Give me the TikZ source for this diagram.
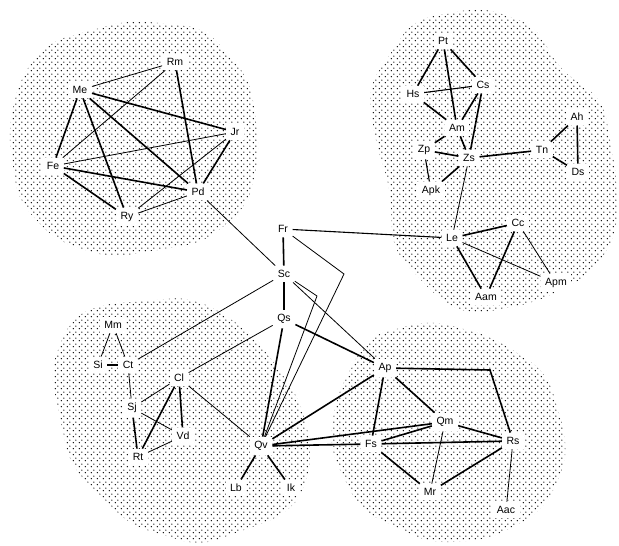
\documentclass[tikz,border=0pt]{standalone}
\usepackage{fontspec}
\setmainfont{Liberation Sans}
\usetikzlibrary{patterns}
\pgfdeclarepatternformonly{stipple}{\pgfpointorigin}{\pgfqpoint{6pt}{6pt}}{\pgfqpoint{6pt}{6pt}}{%
  \pgfpathcircle{\pgfqpoint{1.5pt}{1.5pt}}{0.85pt}%
  \pgfpathcircle{\pgfqpoint{4.5pt}{4.5pt}}{0.85pt}%
  \pgfusepath{fill}}
\tikzset{
  lbl/.style={fill=white, inner sep=4.5pt, font=\fontsize{10.5}{11}\selectfont},
  tk/.style={line width=1.6pt},
  tn/.style={line width=0.8pt},
  md/.style={line width=1.1pt},
  blob/.style={pattern=stipple, pattern color=black, rounded corners=18pt}
}
\begin{document}
\begin{tikzpicture}[x=1pt,y=-1pt]
\useasboundingbox (0,0) rectangle (619,546);
% stippled regions
\path[blob] (48,42) -- (130,20) -- (205,28) -- (250,80) -- (260,150) -- (248,205) -- (205,242) -- (110,258) -- (55,240) -- (18,200) -- (8,130) -- (20,78) -- cycle;
\path[blob] (413,20) -- (483,7) -- (537,27) -- (557,67) -- (603,100) -- (617,180) -- (617,233) -- (593,273) -- (537,302) -- (470,315) -- (440,300) -- (393,250) -- (390,187) -- (375,140) -- (368,87) -- cycle;
\path[blob] (97,305) -- (190,297) -- (232,318) -- (265,350) -- (300,400) -- (312,450) -- (305,490) -- (285,515) -- (200,546) -- (130,525) -- (70,465) -- (50,370) -- (70,320) -- cycle;
\path[blob] (367,337) -- (430,320) -- (493,337) -- (547,373) -- (567,440) -- (563,473) -- (540,513) -- (487,540) -- (430,543) -- (360,510) -- (330,450) -- (335,400) -- cycle;
% nodes
\node[lbl] (Rm) at (175,62) {Rm};
\node[lbl] (Me) at (80,90) {Me};
\node[lbl] (Jr) at (235,132) {Jr};
\node[lbl] (Fe) at (53,166) {Fe};
\node[lbl] (Pd) at (198,192) {Pd};
\node[lbl] (Ry) at (127,217) {Ry};
\node[lbl] (Pt) at (443,41) {Pt};
\node[lbl] (Hs) at (413,94) {Hs};
\node[lbl] (Cs) at (483,85) {Cs};
\node[lbl] (Am) at (457,128) {Am};
\node[lbl] (Zp) at (424,150) {Zp};
\node[lbl] (Zs) at (469,158) {Zs};
\node[lbl] (Tn) at (542,150) {Tn};
\node[lbl] (Ah) at (577,117) {Ah};
\node[lbl] (Ds) at (578,172) {Ds};
\node[lbl] (Apk) at (431,191) {Apk};
\node[lbl] (Le) at (452,238) {Le};
\node[lbl] (Cc) at (518,223) {Cc};
\node[lbl] (Apm) at (556,283) {Apm};
\node[lbl] (Aam) at (486,297) {Aam};
\node[lbl] (Fr) at (283,229) {Fr};
\node[lbl] (Sc) at (284,274) {Sc};
\node[lbl] (Qs) at (284,319) {Qs};
\node[lbl] (Mm) at (113,325) {Mm};
\node[lbl] (Si) at (98,365) {Si};
\node[lbl] (Ct) at (128,365) {Ct};
\node[lbl] (Cl) at (179,378) {Cl};
\node[lbl] (Sj) at (132,408) {Sj};
\node[lbl] (Vd) at (183,436) {Vd};
\node[lbl] (Rt) at (138,457) {Rt};
\node[lbl] (Qv) at (261,446) {Qv};
\node[lbl] (Lb) at (236,488) {Lb};
\node[lbl] (Ik) at (291,488) {Ik};
\node[lbl] (Ap) at (385,368) {Ap};
\node[lbl] (Qm) at (445,422) {Qm};
\node[lbl] (Fs) at (371,444) {Fs};
\node[lbl] (Rs) at (513,441) {Rs};
\node[lbl] (Mr) at (430,492) {Mr};
\node[lbl] (Aac) at (506,510) {Aac};
\coordinate (frb) at (344,274);
\coordinate (scb) at (317,296);
\coordinate (apb) at (490,370);
% top-left edges
\draw[tn] (Me) -- (Rm);
\draw[tn] (Rm) -- (Fe);
\draw[tn] (Fe) -- (Jr);
\draw[tn] (Jr) -- (Ry);
\draw[tn] (Ry) -- (Pd);
\draw[tk] (Me) -- (Jr);
\draw[tk] (Me) -- (Fe);
\draw[tk] (Me) -- (Ry);
\draw[tk] (Me) -- (Pd);
\draw[tk] (Rm) -- (Pd);
\draw[tk] (Fe) -- (Pd);
\draw[tk] (Fe) -- (Ry);
\draw[tk] (Jr) -- (Pd);
\draw[tn] (Pd) -- (Sc);
% top-right edges
\draw[tk] (Hs) -- (Pt);
\draw[tk] (Pt) -- (Am);
\draw[tk] (Pt) -- (Cs);
\draw[md] (Hs) -- (Cs);
\draw[tk] (Hs) -- (Am);
\draw[tk] (Cs) -- (Am);
\draw[tk] (Cs) -- (Zs);
\draw[tk] (Am) -- (Zs);
\draw[tk] (Zp) -- (Am);
\draw[tk] (Zp) -- (Zs);
\draw[tk] (Zs) -- (Tn);
\draw[tk] (Tn) -- (Ah);
\draw[tk] (Ah) -- (Ds);
\draw[tk] (Tn) -- (Ds);
\draw[md] (Zp) -- (Apk);
\draw[tk] (Zs) -- (Apk);
\draw[tn] (Zs) -- (Le);
\draw[tk] (Le) -- (Cc);
\draw[tk] (Le) -- (Aam);
\draw[tk] (Cc) -- (Aam);
\draw[tn] (Le) -- (Apm);
\draw[tn] (Cc) -- (Apm);
\draw[md] (Fr) -- (Le);
% centre edges
\draw[tk] (Fr) -- (Sc);
\draw[tk] (Sc) -- (Qs);
\draw[tk] (Qs) -- (Qv);
\draw[tk] (Qs) -- (Ap);
\draw[tn] (Sc) -- (Ap);
\draw[tn] (Fr) -- (frb) -- (Qv);
\draw[tn] (Sc) -- (scb) -- (Qv);
\draw[tn] (Sc) -- (Ct);
\draw[tn] (Qs) -- (Cl);
% bottom-left edges
\draw[tn] (Mm) -- (Si);
\draw[tn] (Mm) -- (Ct);
\draw[tk] (Si) -- (Ct);
\draw[tn] (Ct) -- (Sj);
\draw[tn] (Sj) -- (Cl);
\draw[tn] (Sj) -- (Vd);
\draw[tk] (Sj) -- (Rt);
\draw[tk] (Rt) -- (Cl);
\draw[tk] (Cl) -- (Vd);
\draw[tn] (Rt) -- (Vd);
\draw[tn] (Cl) -- (Qv);
\draw[tk] (Qv) -- (Lb);
\draw[tk] (Qv) -- (Ik);
% bottom-right edges
\draw[tk] (Qv) -- (Ap);
\draw[tk] (Qv) -- (Qm);
\draw[tk] (Qv) -- (Fs);
\draw[tk] (Ap) -- (Fs);
\draw[tk] (Ap) -- (Qm);
\draw[tk] (Ap) -- (apb) -- (Rs);
\draw[tk] (Qm) -- (Rs);
\draw[tk] (Fs) -- (Qm);
\draw[tk] (Fs) -- (Rs);
\draw[tk] (Fs) -- (Mr);
\draw[tk] (Mr) -- (Rs);
\draw[tn] (Qm) -- (Mr);
\draw[tn] (Rs) -- (Aac);
\end{tikzpicture}
\end{document}
